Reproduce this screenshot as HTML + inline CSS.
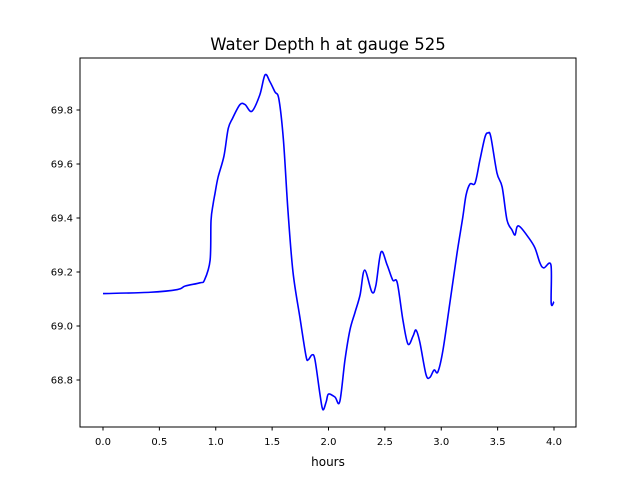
<!DOCTYPE html>
<html><head><meta charset="utf-8"><style>
body{margin:0;background:#fff;font-family:"Liberation Sans","DejaVu Sans",sans-serif}
</style></head><body>
<svg id="chart" width="640" height="480" xmlns="http://www.w3.org/2000/svg" font-family="DejaVu Sans, Liberation Sans, sans-serif">
<rect width="640" height="480" fill="#fff"/>
<text x="328" y="50" text-anchor="middle" font-size="16.5">Water Depth h at gauge 525</text>
<g id="plot"></g>
<rect x="80" y="58" width="496" height="369" fill="none" stroke="#000" stroke-width="1"/>
<text x="328" y="466" text-anchor="middle" font-size="12">hours</text>
</svg>
<script>
const xHours=[0,0.42,0.66,0.73,0.86,0.9,0.95,0.958,0.976,0.993,1.02,1.073,1.11,1.15,1.215,1.26,1.32,1.39,1.437,1.48,1.525,1.56,1.6,1.64,1.685,1.747,1.8,1.82,1.854,1.88,1.925,1.95,1.98,2.0,2.057,2.1,2.146,2.19,2.235,2.28,2.32,2.385,2.42,2.466,2.52,2.57,2.61,2.66,2.705,2.75,2.776,2.81,2.865,2.9,2.936,2.97,3.015,3.08,3.14,3.19,3.22,3.255,3.3,3.343,3.388,3.415,3.44,3.494,3.54,3.583,3.627,3.654,3.672,3.7,3.77,3.83,3.876,3.91,3.973,3.975,4.0];
const depth=[69.12,69.125,69.135,69.148,69.16,69.17,69.244,69.39,69.45,69.49,69.55,69.63,69.73,69.77,69.82,69.82,69.795,69.855,69.93,69.905,69.867,69.84,69.69,69.43,69.2,69.03,68.89,68.875,68.893,68.875,68.745,68.69,68.72,68.748,68.737,68.72,68.874,68.985,69.05,69.115,69.207,69.126,69.15,69.274,69.226,69.17,69.16,69.022,68.933,68.963,68.985,68.94,68.82,68.81,68.837,68.83,68.91,69.096,69.27,69.4,69.485,69.526,69.53,69.615,69.7,69.715,69.7,69.567,69.515,69.393,69.356,69.337,69.367,69.367,69.33,69.29,69.233,69.215,69.226,69.085,69.09];
const xTicks=[0,0.5,1,1.5,2,2.5,3,3.5,4];
const xTickLabels=["0.0","0.5","1.0","1.5","2.0","2.5","3.0","3.5","4.0"];
const yTicks=[68.8,69.0,69.2,69.4,69.6,69.8];
const yTickLabels=["68.8","69.0","69.2","69.4","69.6","69.8"];
const NS="http://www.w3.org/2000/svg";
const sx=v=>103+(v-0)*112.75;
const sy=v=>380-(v-68.8)*270;
const g=document.getElementById('plot');
function mk(t,a){const e=document.createElementNS(NS,t);for(const k in a)e.setAttribute(k,a[k]);return e;}
xTicks.forEach((t,i)=>{
 const l=mk('line',{x1:sx(t),x2:sx(t),y1:427,y2:430.5,stroke:'#000'});
 
 
 g.appendChild(l);
 const tx=mk('text',{x:sx(t),y:445,'text-anchor':'middle','font-size':'10'});
 
 
 tx.textContent=xTickLabels[i];g.appendChild(tx);
});
yTicks.forEach((t,i)=>{
 const l=mk('line',{x1:76.5,x2:80,y1:sy(t),y2:sy(t),stroke:'#000'});
 
 
 g.appendChild(l);
 const tx=mk('text',{x:73,y:sy(t)+3.5,'text-anchor':'end','font-size':'10'});
 
 
 tx.textContent=yTickLabels[i];g.appendChild(tx);
});
const P=xHours.map((x,i)=>[sx(x),sy(depth[i])]);
let d='M'+P[0][0]+','+P[0][1];
for(let i=0;i<P.length-1;i++){
 const p0=P[Math.max(0,i-1)],p1=P[i],p2=P[i+1],p3=P[Math.min(P.length-1,i+2)];
 const t=0.3;
 const c1=[p1[0]+(p2[0]-p0[0])*t/1.8,p1[1]+(p2[1]-p0[1])*t/1.8];
 const c2=[p2[0]-(p3[0]-p1[0])*t/1.8,p2[1]-(p3[1]-p1[1])*t/1.8];
 d+=' C'+c1[0]+','+c1[1]+' '+c2[0]+','+c2[1]+' '+p2[0]+','+p2[1];
}
const p=mk('path',{d:d,fill:'none',stroke:'#0000ff','stroke-width':'1.6','stroke-linejoin':'round'});


g.appendChild(p);
</script>
</body></html>
